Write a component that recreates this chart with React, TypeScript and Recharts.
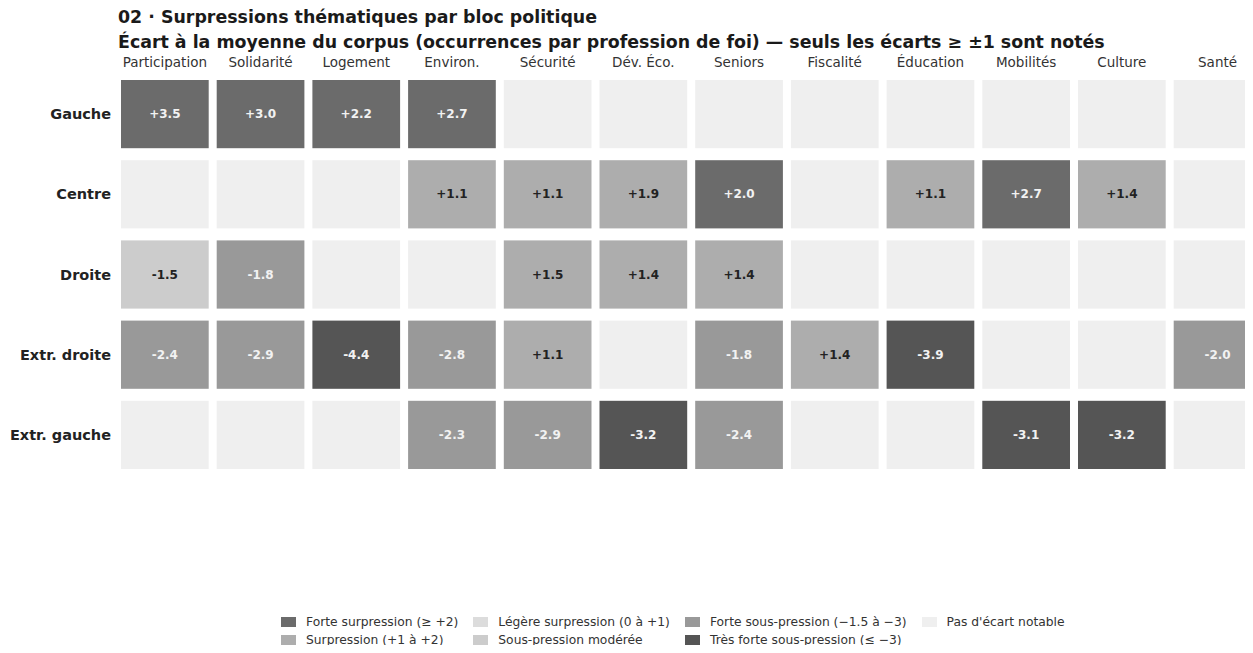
import React from "react";
import { ScatterChart, Scatter, XAxis, YAxis } from "recharts";

const themes = [
  "Participation", "Solidarité", "Logement", "Environ.", "Sécurité", "Dév. Éco.",
  "Seniors", "Fiscalité", "Éducation", "Mobilités", "Culture", "Santé",
];
const blocs = ["Gauche", "Centre", "Droite", "Extr. droite", "Extr. gauche"];

// écarts par bloc, null = pas d'écart notable
const gauche = [3.5, 3.0, 2.2, 2.7, null, null, null, null, null, null, null, null];
const centre = [null, null, null, 1.1, 1.1, 1.9, 2.0, null, 1.1, 2.7, 1.4, null];
const droite = [-1.5, -1.8, null, null, 1.5, 1.4, 1.4, null, null, null, null, null];
const extrDroite = [-2.4, -2.9, -4.4, -2.8, 1.1, null, -1.8, 1.4, -3.9, null, null, -2.0];
const extrGauche = [null, null, null, -2.3, -2.9, -3.2, -2.4, null, null, -3.1, -3.2, null];
const rows = [gauche, centre, droite, extrDroite, extrGauche];

const legendLabels = [
  "Forte surpression (≥ +2)", "Surpression (+1 à +2)",
  "Légère surpression (0 à +1)", "Sous-pression modérée",
  "Forte sous-pression (−1.5 à −3)", "Très forte sous-pression (≤ −3)",
  "Pas d'écart notable",
];
const legendColors = ["#6b6b6b", "#adadad", "#dcdcdc", "#cccccc", "#999999", "#555555", "#efefef"];

const FONT = "'DejaVu Sans', Verdana, sans-serif";

const W = 1280;
const H = 653;
const M = { top: 0, right: 14.6, bottom: 178, left: 0 };
const Y_W = 117;
const X_H = 74;
const plotW = W - M.left - M.right - Y_W;
const plotH = H - M.top - M.bottom - X_H;
const cellW = plotW / themes.length - 8;
const cellH = plotH / blocs.length - 12;

function fillFor(v: number | null) {
  if (v == null) return "#efefef";
  if (v >= 2) return "#6b6b6b";
  if (v >= 1) return "#adadad";
  if (v >= 0) return "#dcdcdc";
  if (v >= -1.5) return "#cccccc";
  if (v > -3) return "#999999";
  return "#555555";
}

function fmt(v: number) {
  return (v > 0 ? "+" : "") + v.toFixed(1);
}

const data = rows.flatMap((r, i) =>
  r.map((v, j) => ({ x: j + 0.5, y: i + 0.5, v }))
);

const CellShape = (props: any) => {
  const { cx, cy, payload } = props;
  const v = payload.v as number | null;
  const fill = fillFor(v);
  const dark = fill === "#6b6b6b" || fill === "#555555" || fill === "#999999";
  return (
    <g>
      <rect x={cx - cellW / 2} y={cy - cellH / 2} width={cellW} height={cellH} fill={fill} />
      {v != null && (
        <text
          x={cx}
          y={cy}
          textAnchor="middle"
          dominantBaseline="central"
          fontFamily={FONT}
          fontWeight="bold"
          fontSize={12}
          fill={dark ? "#f2f2f2" : "#222"}
        >
          {fmt(v)}
        </text>
      )}
    </g>
  );
};

const XTick = (props: any) => {
  const { x, payload } = props;
  return (
    <text x={x} y={67} textAnchor="middle" fontFamily={FONT} fontSize={13.5} fill="#333">
      {themes[Math.floor(payload.value)]}
    </text>
  );
};

const YTick = (props: any) => {
  const { y, payload } = props;
  return (
    <text x={111} y={y} textAnchor="end" dominantBaseline="central" fontFamily={FONT} fontWeight="bold" fontSize={14.5} fill="#222">
      {blocs[Math.floor(payload.value)]}
    </text>
  );
};

export default function App() {
  return (
    <div style={{ margin: -8, width: 1253, height: 653, overflow: "hidden", position: "relative", background: "#fff" }}>
      <div
        style={{
          position: "absolute", left: 118, top: 5, fontFamily: FONT, fontWeight: "bold",
          fontSize: 17.4, lineHeight: "25px", color: "#1a1a1a", whiteSpace: "nowrap",
        }}
      >
        <div>02 · Surpressions thématiques par bloc politique</div>
        <div>Écart à la moyenne du corpus (occurrences par profession de foi) — seuls les écarts ≥ ±1 sont notés</div>
      </div>
      <ScatterChart width={W} height={H} margin={M}>
        <XAxis
          type="number"
          dataKey="x"
          orientation="top"
          domain={[0, themes.length]}
          ticks={themes.map((_, i) => i + 0.5)}
          height={X_H}
          axisLine={false}
          tickLine={false}
          tick={<XTick />}
          interval={0}
        />
        <YAxis
          type="number"
          dataKey="y"
          domain={[0, blocs.length]}
          reversed
          ticks={blocs.map((_, i) => i + 0.5)}
          width={Y_W}
          axisLine={false}
          tickLine={false}
          tick={<YTick />}
          interval={0}
        />
        <Scatter data={data} shape={<CellShape />} isAnimationActive={false} />
      </ScatterChart>
      <div
        style={{
          position: "absolute", left: 281, top: 615, display: "grid",
          gridTemplateRows: "14px 14px", rowGap: 4, gridAutoFlow: "column", columnGap: 15,
          fontFamily: FONT, fontSize: 12.3, lineHeight: "14px", color: "#333",
        }}
      >
        {legendLabels.map((l, i) => (
          <div key={l} style={{ display: "flex", alignItems: "center", whiteSpace: "nowrap" }}>
            <span style={{ display: "inline-block", width: 15, height: 10, background: legendColors[i], marginRight: 10 }} />
            {l}
          </div>
        ))}
      </div>
    </div>
  );
}
